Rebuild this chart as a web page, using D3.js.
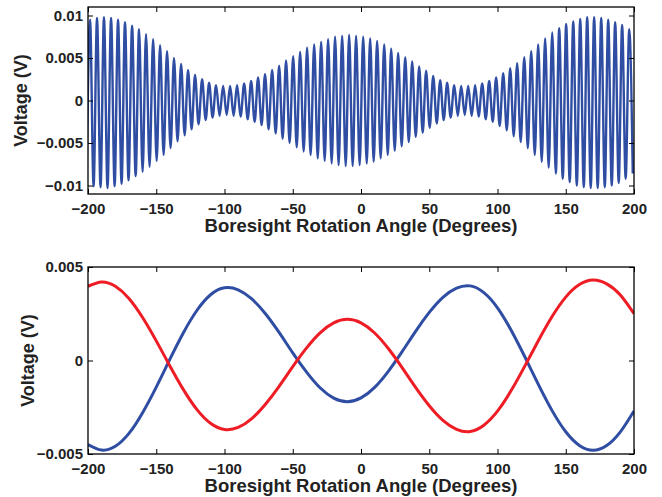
<!DOCTYPE html>
<html><head><meta charset="utf-8">
<script src="https://cdn.jsdelivr.net/npm/d3@7"></script>
<style>
body{margin:0;background:#fff;}
text{font-family:"Liberation Sans",Arial,Helvetica,sans-serif;font-weight:bold;fill:#222;}
</style></head><body>
<div id="chart"></div>
<script>
// ---------- data ----------
const xTicks = [-200,-150,-100,-50,0,50,100,150,200];
const xTickLabels = ["\u2212200","\u2212150","\u2212100","\u221250","0","50","100","150","200"];
const topYTicks = [-0.01,-0.005,0,0.005,0.01];
const topYTickLabels = ["\u22120.01","\u22120.005","0","0.005","0.01"];
const botYTicks = [-0.005,0,0.005];
const botYTickLabels = ["\u22120.005","0","0.005"];

// top panel: modulated carrier, positive peaks and negative troughs
const peakAngles = [-198.5,-193.4,-188.3,-183.1,-178.0,-172.9,-167.7,-162.6,-157.5,-152.3,-147.2,-142.1,-137.0,-131.8,-126.7,-121.6,-116.4,-111.3,-106.2,-101.0,-95.9,-90.8,-85.6,-80.5,-75.4,-70.3,-65.1,-60.0,-54.9,-49.7,-44.6,-39.5,-34.3,-29.2,-24.1,-19.0,-13.8,-8.7,-3.6,1.6,6.7,11.8,17.0,22.1,27.2,32.4,37.5,42.6,47.7,52.9,58.0,63.1,68.3,73.4,78.5,83.6,88.8,93.9,99.0,104.2,109.3,114.4,119.6,124.7,129.8,134.9,140.1,145.2,150.3,155.5,160.6,165.7,170.8,176.0,181.1,186.2,191.3,196.5];
const peakValues = [0.0095,0.0097,0.0098,0.0097,0.0095,0.0092,0.0088,0.0084,0.0078,0.0072,0.0065,0.0058,0.0050,0.0043,0.0036,0.0030,0.0025,0.0021,0.0018,0.0017,0.0017,0.0018,0.0020,0.0023,0.0027,0.0031,0.0036,0.0041,0.0047,0.0052,0.0057,0.0062,0.0066,0.0069,0.0072,0.0075,0.0076,0.0077,0.0076,0.0075,0.0073,0.0070,0.0066,0.0061,0.0056,0.0051,0.0046,0.0040,0.0035,0.0029,0.0024,0.0021,0.0018,0.0017,0.0017,0.0018,0.0020,0.0023,0.0027,0.0032,0.0038,0.0044,0.0051,0.0058,0.0066,0.0073,0.0080,0.0085,0.0090,0.0093,0.0096,0.0098,0.0098,0.0097,0.0095,0.0092,0.0089,0.0084];
const troughAngles = [-201.1,-195.9,-190.8,-185.7,-180.5,-175.4,-170.3,-165.1,-160.0,-154.9,-149.7,-144.6,-139.5,-134.4,-129.2,-124.1,-119.0,-113.8,-108.7,-103.6,-98.4,-93.3,-88.2,-83.0,-77.9,-72.8,-67.7,-62.5,-57.4,-52.3,-47.1,-42.0,-36.9,-31.7,-26.6,-21.5,-16.4,-11.2,-6.1,-1.0,4.2,9.3,14.4,19.6,24.7,29.8,35.0,40.1,45.2,50.3,55.5,60.6,65.7,70.9,76.0,81.1,86.2,91.4,96.5,101.6,106.8,111.9,117.0,122.2,127.3,132.4,137.5,142.7,147.8,152.9,158.1,163.2,168.3,173.4,178.6,183.7,188.8,193.9,199.1];
const troughValues = [-0.0099,-0.0101,-0.0102,-0.0103,-0.0101,-0.0098,-0.0094,-0.0089,-0.0084,-0.0078,-0.0071,-0.0064,-0.0056,-0.0048,-0.0041,-0.0034,-0.0028,-0.0023,-0.0020,-0.0018,-0.0017,-0.0018,-0.0019,-0.0022,-0.0025,-0.0029,-0.0034,-0.0039,-0.0045,-0.0050,-0.0055,-0.0060,-0.0064,-0.0068,-0.0071,-0.0074,-0.0076,-0.0077,-0.0077,-0.0076,-0.0074,-0.0072,-0.0068,-0.0064,-0.0059,-0.0054,-0.0049,-0.0043,-0.0038,-0.0032,-0.0027,-0.0023,-0.0020,-0.0018,-0.0017,-0.0018,-0.0019,-0.0022,-0.0025,-0.0030,-0.0035,-0.0042,-0.0049,-0.0056,-0.0064,-0.0072,-0.0079,-0.0086,-0.0092,-0.0096,-0.0100,-0.0102,-0.0103,-0.0103,-0.0102,-0.0100,-0.0097,-0.0092,-0.0086];

// bottom panel: two channel outputs
const botAngles = [-200,-190,-180,-170,-160,-150,-140,-130,-120,-110,-100,-90,-80,-70,-60,-50,-40,-30,-20,-10,0,10,20,30,40,50,60,70,80,90,100,110,120,130,140,150,160,170,180,190,200];
const blueValues = [-0.00449,-0.00479,-0.00459,-0.00390,-0.00279,-0.00142,0.00007,0.00150,0.00270,0.00353,0.00389,0.00378,0.00329,0.00250,0.00150,0.00041,-0.00061,-0.00146,-0.00201,-0.00220,-0.00200,-0.00144,-0.00058,0.00046,0.00156,0.00257,0.00338,0.00387,0.00399,0.00363,0.00282,0.00162,0.00020,-0.00129,-0.00268,-0.00381,-0.00454,-0.00480,-0.00455,-0.00382,-0.00270];
const redValues = [0.00397,0.00420,0.00397,0.00332,0.00230,0.00105,-0.00029,-0.00157,-0.00264,-0.00337,-0.00369,-0.00358,-0.00311,-0.00234,-0.00138,-0.00033,0.00066,0.00148,0.00201,0.00220,0.00201,0.00147,0.00064,-0.00037,-0.00144,-0.00242,-0.00320,-0.00368,-0.00380,-0.00346,-0.00271,-0.00161,-0.00030,0.00107,0.00235,0.00339,0.00406,0.00430,0.00410,0.00350,0.00250];

// ---------- drawing ----------
const W = 662, H = 497;
const BLUE = "#2f4ea3", RED = "#ee1d25";
const svg = d3.select("#chart").append("svg").attr("width", W).attr("height", H);

function panel(opt){
  const x = d3.scaleLinear().domain([-200,200]).range([88,634]);
  const y = d3.scaleLinear().domain(opt.yDomain).range([opt.bottom, opt.top]);
  const g = svg.append("g");
  const clipId = "clip" + opt.id;
  svg.append("clipPath").attr("id", clipId).append("rect")
    .attr("x", 88).attr("y", opt.top).attr("width", 546).attr("height", opt.bottom - opt.top);

  const lines = g.append("g").attr("clip-path", `url(#${clipId})`);
  opt.series.forEach(s => {
    const line = d3.line().x(d => x(d[0])).y(d => y(d[1])).curve(s.curve);
    lines.append("path").datum(s.data).attr("d", line)
      .attr("fill","none").attr("stroke", s.color).attr("stroke-width", s.width)
      .attr("stroke-linejoin","round");
  });

  const fmtX = d => xTickLabels[xTicks.indexOf(d)];
  const fmtY = d => opt.yLabels[opt.yTicks.indexOf(d)];
  const ax = (gen, tr) => {
    const a = g.append("g").attr("transform", tr).call(gen);
    a.select(".domain").remove();
    a.selectAll(".tick line").attr("stroke","#000").attr("stroke-width",1);
    a.selectAll("text").attr("font-size", 15).attr("fill","#222")
      .style("font-family","'Liberation Sans',Arial,sans-serif").style("font-weight","bold");
    return a;
  };
  ax(d3.axisBottom(x).tickValues(xTicks).tickFormat(fmtX).tickSize(-5).tickSizeOuter(0).tickPadding(9), `translate(0,${opt.bottom})`);
  ax(d3.axisTop(x).tickValues(xTicks).tickFormat("").tickSize(-5).tickSizeOuter(0), `translate(0,${opt.top})`);
  ax(d3.axisLeft(y).tickValues(opt.yTicks).tickFormat(fmtY).tickSize(-5).tickSizeOuter(0).tickPadding(5), `translate(88,0)`);
  ax(d3.axisRight(y).tickValues(opt.yTicks).tickFormat("").tickSize(-5).tickSizeOuter(0), `translate(634,0)`);

  g.append("rect").attr("x",88).attr("y",opt.top).attr("width",546).attr("height",opt.bottom-opt.top)
    .attr("fill","none").attr("stroke","#000").attr("stroke-width",1.3);

  g.append("text").attr("x", 361).attr("y", opt.xTitleY).attr("text-anchor","middle")
    .attr("font-size", 18.5).text("Boresight Rotation Angle (Degrees)");
  g.append("text").attr("transform", `translate(${opt.yTitleX},${(opt.top+opt.bottom)/2}) rotate(-90)`)
    .attr("text-anchor","middle").attr("font-size", 18).text("Voltage (V)");
}

// top series: interleave peaks and troughs, sorted by angle
const topPts = peakAngles.map((a,i)=>[a, peakValues[i]])
  .concat(troughAngles.map((a,i)=>[a, troughValues[i]]))
  .sort((p,q)=>p[0]-q[0]);

panel({id:"top", top:7, bottom:194, yDomain:[-0.011,0.011], yTicks:topYTicks, yLabels:topYTickLabels,
  xTitleY:232, yTitleX:27,
  series:[{data:topPts, color:BLUE, width:2.4, curve:d3.curveMonotoneX}]});

panel({id:"bot", top:267, bottom:454, yDomain:[-0.005,0.005], yTicks:botYTicks, yLabels:botYTickLabels,
  xTitleY:492, yTitleX:34,
  series:[
    {data:botAngles.map((a,i)=>[a, blueValues[i]]), color:BLUE, width:3, curve:d3.curveNatural},
    {data:botAngles.map((a,i)=>[a, redValues[i]]), color:RED, width:3, curve:d3.curveNatural}
  ]});
</script>
</body></html>
